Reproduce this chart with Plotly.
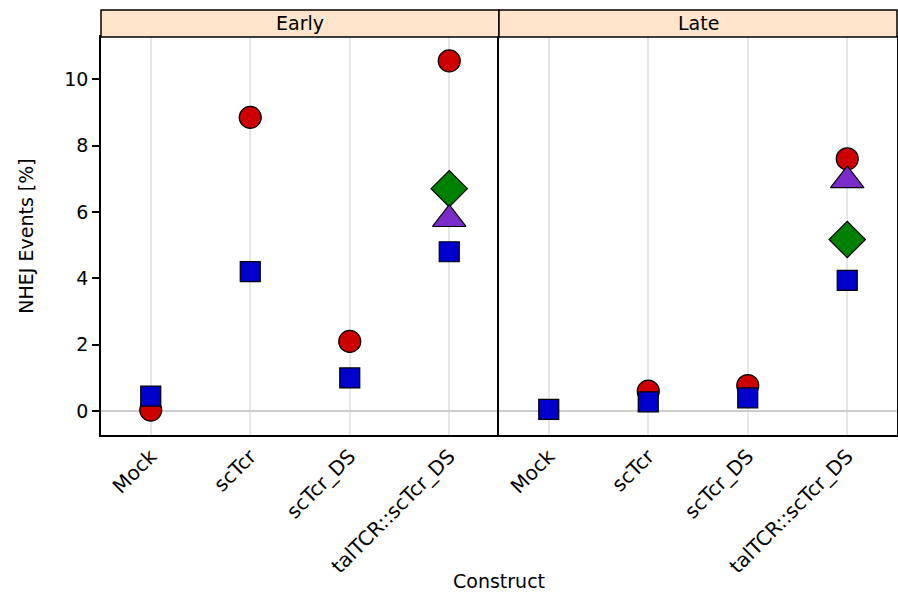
import plotly.graph_objects as go
from plotly.subplots import make_subplots

# Data: NHEJ events (%) per construct, for each time point and replicate
constructs = ["Mock", "scTcr", "scTcr_DS", "talTCR::scTcr_DS"]
panels = ["Early", "Late"]

early_rep1 = [0.03, 8.85, 2.1, 10.55]   # circles
early_rep2 = [None, None, None, 6.7]    # diamonds
early_rep3 = [None, None, None, 5.78]   # triangles
early_rep4 = [0.45, 4.2, 1.0, 4.8]      # squares

late_rep1 = [None, 0.6, 0.77, 7.6]
late_rep2 = [None, None, None, 5.17]
late_rep3 = [None, None, None, 6.95]
late_rep4 = [0.05, 0.28, 0.4, 3.94]

y_ticks = [0, 2, 4, 6, 8, 10]

series_style = [
    ("circle", "#CC0000", 22),
    ("diamond", "#008000", 28),
    ("triangle-up", "#7B2CC8", 29),
    ("square", "#0000CC", 20),
]

FONT = "DejaVu Sans, sans-serif"

fig = make_subplots(rows=1, cols=2, shared_yaxes=False, horizontal_spacing=0)

panel_data = [
    [early_rep1, early_rep2, early_rep3, early_rep4],
    [late_rep1, late_rep2, late_rep3, late_rep4],
]

for col, reps in enumerate(panel_data, start=1):
    for vals, (sym, color, size) in zip(reps, series_style):
        xs = [c for c, v in zip(constructs, vals) if v is not None]
        ys = [v for v in vals if v is not None]
        fig.add_trace(
            go.Scatter(
                x=xs, y=ys, mode="markers",
                marker=dict(symbol=sym, color=color, size=size,
                            line=dict(color="black", width=1.2)),
                showlegend=False, cliponaxis=False,
            ),
            row=1, col=col,
        )

for col in (1, 2):
    fig.update_xaxes(
        categoryorder="array", categoryarray=constructs,
        range=[-0.5, 3.5], showgrid=True, gridcolor="#E6E6E6", gridwidth=1.5,
        tickangle=-45, ticks="", tickfont=dict(size=20, color="black", family=FONT),
        zeroline=False, showline=True, linecolor="black", linewidth=1.5,
        mirror=True, automargin=False, row=1, col=col,
    )
    fig.update_yaxes(
        range=[-0.72, 11.27], tickvals=y_ticks, showgrid=False,
        zeroline=True, zerolinecolor="#CCCCCC", zerolinewidth=1.5,
        ticks="outside", ticklen=7, tickcolor="black", tickwidth=1.5,
        tickfont=dict(size=19, color="black", family=FONT),
        showline=True, linecolor="black", linewidth=1.5, automargin=False,
        row=1, col=col,
    )

# left panel: line on the left only; right panel: ticks on right, line on both sides
fig.update_yaxes(mirror=False, row=1, col=1)
fig.update_yaxes(showticklabels=False, side="right", mirror=True, row=1, col=2)
fig.update_yaxes(title=dict(text="NHEJ Events [%]", standoff=26,
                            font=dict(size=19, family=FONT, color="black")),
                 row=1, col=1)

# Strip headers above each panel
strip_h = 27 / 398
for i, name in enumerate(panels):
    x0, x1 = i * 0.5, (i + 1) * 0.5
    fig.add_shape(type="rect", xref="paper", yref="paper",
                  x0=x0, x1=x1, y0=1, y1=1 + strip_h,
                  fillcolor="#FFE5CC", line=dict(color="black", width=1.5))
    fig.add_annotation(text=name, xref="paper", yref="paper",
                       x=(x0 + x1) / 2, y=1 + strip_h / 2, showarrow=False,
                       font=dict(size=19, family=FONT, color="black"),
                       xanchor="center", yanchor="middle")

fig.add_annotation(text="Construct", xref="paper", yref="paper",
                   x=0.5, y=-146 / 398, showarrow=False,
                   font=dict(size=19, family=FONT, color="black"),
                   xanchor="center", yanchor="middle")

fig.update_layout(
    width=898, height=595,
    margin=dict(l=101, r=1, t=37, b=160),
    plot_bgcolor="white", paper_bgcolor="white",
    font=dict(family=FONT, color="black"),
)

fig.write_html("out.html")
